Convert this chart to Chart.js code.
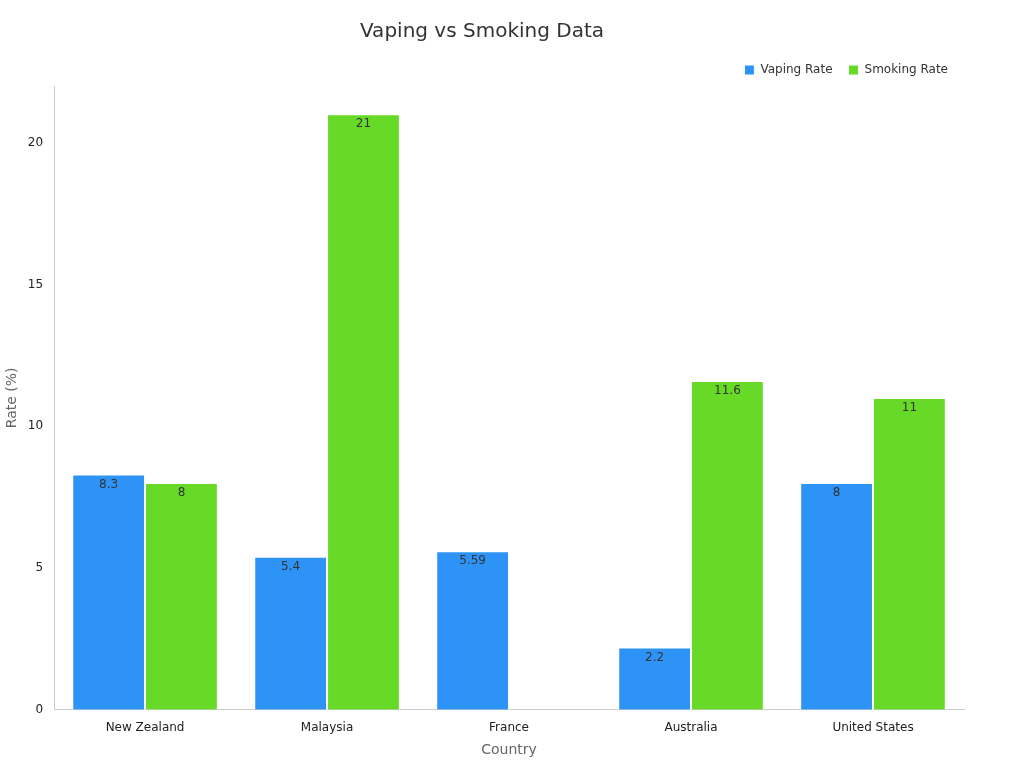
<!DOCTYPE html>
<html><head><meta charset="utf-8">
<script src="https://cdn.jsdelivr.net/npm/chart.js@4"></script>
<style>html,body{margin:0;padding:0;background:#fff}#w{width:1024px;height:768px}</style>
</head><body><div id="w"><canvas id="c"></canvas></div>
<script>
const categories = ["New Zealand","Malaysia","France","Australia","United States"];
const vapingRate = [8.3,5.4,5.59,2.2,8];
const smokingRate = [8,21,null,11.6,11];

const labelPlugin = {
  id:'lbl',
  afterDatasetsDraw(chart){
    const ctx = chart.ctx;
    ctx.save();
    ctx.font = '12px "DejaVu Sans", sans-serif';
    ctx.fillStyle = '#333';
    ctx.textAlign = 'center';
    ctx.textBaseline = 'top';
    chart.data.datasets.forEach((ds,i)=>{
      chart.getDatasetMeta(i).data.forEach((bar,j)=>{
        const v = ds.data[j];
        if(v==null) return;
        ctx.fillText(String(v), bar.x, bar.y+4);
      });
    });
    ctx.restore();
  }
};

new Chart(document.getElementById('c'),{
  type:'bar',
  data:{labels:categories,datasets:[
    {label:'Vaping Rate',data:vapingRate,backgroundColor:'#2E93F7',borderColor:'#fff',borderWidth:1},
    {label:'Smoking Rate',data:smokingRate,backgroundColor:'#66DA26',borderColor:'#fff',borderWidth:1}
  ]},
  options:{
    responsive:true,maintainAspectRatio:false,animation:false,
    layout:{padding:{left:0,right:60,top:10,bottom:5}},
    datasets:{bar:{barPercentage:1,categoryPercentage:0.8}},
    plugins:{
      title:{display:true,text:'Vaping vs Smoking Data',color:'#333',font:{family:'"DejaVu Sans", sans-serif',size:20,weight:'normal'},padding:{top:10,bottom:4}},
      legend:{align:'end',labels:{usePointStyle:true,pointStyle:'rect',boxWidth:10,boxHeight:10,padding:16,color:'#333',font:{family:'"DejaVu Sans", sans-serif',size:12}}},
      tooltip:{enabled:false}
    },
    scales:{
      x:{grid:{display:false},border:{color:'#ccc'},ticks:{color:'#222',font:{family:'"DejaVu Sans", sans-serif',size:12}},
         title:{display:true,text:'Country',color:'#666',font:{family:'"DejaVu Sans", sans-serif',size:14}}},
      y:{min:0,max:22,grid:{display:false,drawTicks:true},border:{color:'#ccc'},
         ticks:{stepSize:5,color:'#222',font:{family:'"DejaVu Sans", sans-serif',size:12},callback:v=>v%5===0?v:''},
         afterBuildTicks(a){a.ticks=[0,5,10,15,20].map(v=>({value:v}));},
         title:{display:true,text:'Rate (%)',color:'#666',font:{family:'"DejaVu Sans", sans-serif',size:14}}}
    }
  },
  plugins:[labelPlugin]
});
</script></body></html>
